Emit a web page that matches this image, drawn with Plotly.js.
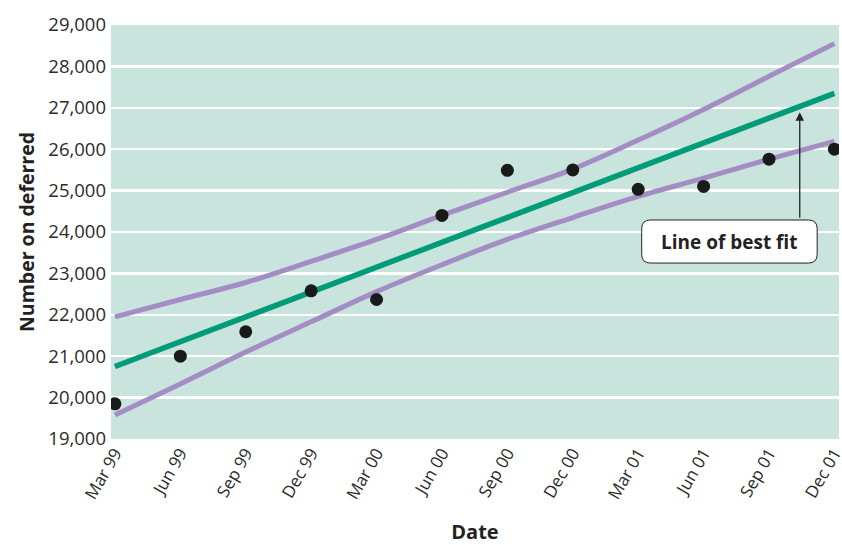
<!DOCTYPE html>
<html><head><meta charset="utf-8">
<script src="https://cdn.plot.ly/plotly-3.0.1.min.js"></script>
<style>html,body{margin:0;padding:0;background:#fff}#chart{width:842px;height:545px}</style>
</head><body><div id="chart"></div>
<script>
const categories = ['Mar 99','Jun 99','Sep 99','Dec 99','Mar 00','Jun 00','Sep 00','Dec 00','Mar 01','Jun 01','Sep 01','Dec 01'];
const observed = [19850, 21000, 21590, 22580, 22370, 24400, 25490, 25500, 25030, 25100, 25760, 26000];
const upperBand = [21950, 22370, 22780, 23290, 23820, 24400, 24960, 25520, 26220, 26960, 27760, 28550];
const lowerBand = [19580, 20330, 21100, 21830, 22560, 23210, 23820, 24350, 24860, 25300, 25760, 26190];
const fitEnds = [20750, 27350];
const yTicks = [19000, 20000, 21000, 22000, 23000, 24000, 25000, 26000, 27000, 28000, 29000];

const idx = categories.map((_, i) => i);
const font = "'Open Sans', 'Noto Sans', sans-serif";

const traces = [
  {x: idx, y: upperBand, mode: 'lines', line: {color: '#a48cc4', width: 5, shape: 'spline'}, hoverinfo: 'skip'},
  {x: idx, y: lowerBand, mode: 'lines', line: {color: '#a48cc4', width: 5, shape: 'spline'}, hoverinfo: 'skip'},
  {x: [idx[0], idx[idx.length - 1]], y: fitEnds, mode: 'lines', line: {color: '#009b78', width: 5.5}},
  {x: idx, y: observed, mode: 'markers', marker: {color: '#1b1a1a', size: 13}}
];

const bx0 = 0.729, bx1 = 0.970, by0 = 0.425, by1 = 0.529, rx = 0.012, ry = 0.021;
const boxPath = `M ${bx0+rx} ${by1} L ${bx1-rx} ${by1} Q ${bx1} ${by1} ${bx1} ${by1-ry} L ${bx1} ${by0+ry} Q ${bx1} ${by0} ${bx1-rx} ${by0} L ${bx0+rx} ${by0} Q ${bx0} ${by0} ${bx0} ${by0+ry} L ${bx0} ${by1-ry} Q ${bx0} ${by1} ${bx0+rx} ${by1} Z`;

const layout = {
  width: 842, height: 545,
  margin: {l: 111, r: 3, t: 25, b: 106},
  paper_bgcolor: '#ffffff',
  plot_bgcolor: '#c8e4dc',
  showlegend: false,
  font: {family: font, color: '#2b2b2b'},
  xaxis: {
    range: [-0.06, 11.07],
    tickvals: idx, ticktext: categories,
    tickangle: -60,
    ticklabeloverflow: 'allow',
    tickfont: {size: 17, color: '#2b2b2b', family: font},
    showgrid: false, zeroline: false, showline: false, ticks: '',
    title: {text: '<b>Date</b>', font: {size: 20, color: '#222', family: font}, standoff: 24}
  },
  yaxis: {
    range: [19000, 29000],
    tickvals: yTicks,
    tickformat: ',d',
    tickfont: {size: 18.5, color: '#2b2b2b', family: font},
    showgrid: true, gridcolor: '#ffffff', gridwidth: 2.5,
    zeroline: false, showline: false, ticks: '',
    ticklabelstandoff: 4,
    title: {text: '<b>Number on deferred</b>', font: {size: 19.5, color: '#222', family: font}, standoff: 8}
  },
  shapes: [
    {type: 'path', xref: 'paper', yref: 'paper', path: boxPath, fillcolor: '#ffffff', line: {color: '#222', width: 1}}
  ],
  annotations: [
    {xref: 'paper', yref: 'paper', x: (bx0 + bx1) / 2, y: (by0 + by1) / 2, xanchor: 'center', yanchor: 'middle',
     text: '<b>Line of best fit</b>', showarrow: false, font: {size: 19, color: '#222', family: font}},
    {xref: 'x', yref: 'y', x: 10.47, y: 26890, axref: 'x', ayref: 'y', ax: 10.47, ay: 24310,
     text: '', showarrow: true, arrowhead: 2, arrowsize: 1.3, arrowwidth: 1.3, arrowcolor: '#222', standoff: 0, startstandoff: 0}
  ]
};

Plotly.newPlot('chart', traces, layout, {displayModeBar: false, staticPlot: true});
</script>
</body></html>
